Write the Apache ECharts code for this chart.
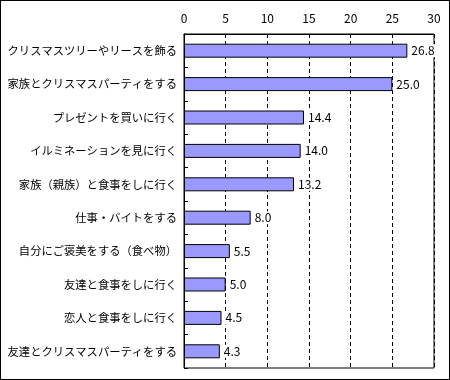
<!DOCTYPE html>
<html><head><meta charset="utf-8">
<script src="https://cdn.jsdelivr.net/npm/echarts@6/dist/echarts.min.js"></script>
<style>html,body{margin:0;padding:0;background:#fff}#c{width:450px;height:380px;box-sizing:border-box;border:1px solid #000;}</style>
</head><body><div id="c"></div>
<script>
const categories = ["クリスマスツリーやリースを飾る","家族とクリスマスパーティをする","プレゼントを買いに行く","イルミネーションを見に行く","家族（親族）と食事をしに行く","仕事・バイトをする","自分にご褒美をする（食べ物）","友達と食事をしに行く","恋人と食事をしに行く","友達とクリスマスパーティをする"];
const values = [26.8,25.0,14.4,14.0,13.2,8.0,5.5,5.0,4.5,4.3];
const xTicks = [0,5,10,15,20,25,30];
const font = "'Noto Sans CJK JP', sans-serif";
const chart = echarts.init(document.getElementById('c'));
chart.setOption({
  animation:false,
  grid:{left:183,right:15,top:33,bottom:11,containLabel:false,outerBoundsMode:'none',show:true,borderColor:'#000',borderWidth:1},
  xAxis:{type:'value',position:'top',min:xTicks[0],max:xTicks[xTicks.length-1],interval:5,
    axisLine:{show:true,lineStyle:{color:'#000'}},
    axisTick:{show:true,inside:true,length:4,lineStyle:{color:'#000'}},
    axisLabel:{color:'#000',fontFamily:font,fontSize:12,margin:10},
    splitLine:{show:true,lineStyle:{color:'#000',type:[4,3],width:1}}},
  yAxis:{type:'category',inverse:true,data:categories,
    axisLine:{show:true,lineStyle:{color:'#000'}},
    axisTick:{show:true,inside:true,length:4,lineStyle:{color:'#000'}},
    axisLabel:{color:'#000',fontFamily:font,fontSize:11.3,margin:7}},
  series:[{type:'bar',data:values,barWidth:14,
    itemStyle:{color:'#9999FF',borderColor:'#000',borderWidth:1},
    label:{show:true,position:'right',distance:3,color:'#000',fontFamily:font,fontSize:12,
      backgroundColor:'#fff',padding:[1,1,0,1],
      formatter:p=>p.value.toFixed(1)}}]
});
</script></body></html>
